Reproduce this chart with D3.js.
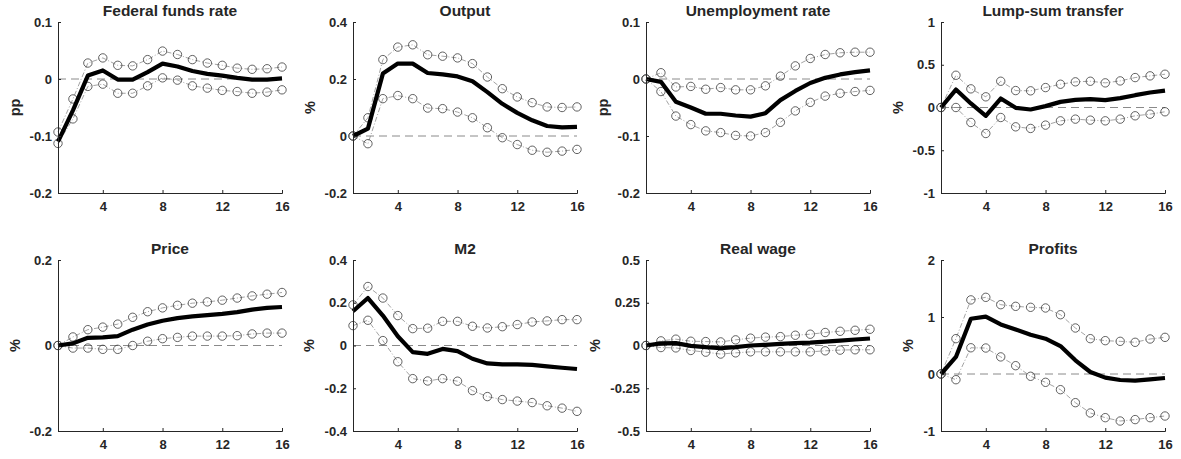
<!DOCTYPE html>
<html>
<head>
<meta charset="utf-8">
<script src="https://cdn.jsdelivr.net/npm/d3@7"></script>
<style>
  body { margin: 0; background: #fff; }
  text { font-family: "Liberation Sans", Arial, sans-serif; font-weight: bold; fill: #262626; }
</style>
</head>
<body>
<div id="chart"></div>
<script>
// horizons 1..16
var steps = d3.range(1, 17);

var titles = ["Federal funds rate", "Output", "Unemployment rate", "Lump-sum transfer",
              "Price", "M2", "Real wage", "Profits"];
var units = ["pp", "%", "pp", "%", "%", "%", "%", "%"];
var yTicks = [[-0.2, -0.1, 0, 0.1], [-0.2, 0, 0.2, 0.4], [-0.2, -0.1, 0, 0.1], [-1, -0.5, 0, 0.5, 1],
              [-0.2, 0, 0.2], [-0.4, -0.2, 0, 0.2, 0.4], [-0.5, -0.25, 0, 0.25, 0.5], [-1, 0, 1, 2]];

// median responses
var median = [
  [-0.11, -0.055, 0.006, 0.015, -0.001, -0.001, 0.012, 0.027, 0.022, 0.014, 0.009, 0.006, 0.002, -0.001, -0.001, 0.001],
  [0, 0.026, 0.219, 0.254, 0.254, 0.221, 0.216, 0.209, 0.192, 0.154, 0.113, 0.081, 0.055, 0.035, 0.03, 0.032],
  [0, -0.005, -0.04, -0.05, -0.061, -0.061, -0.064, -0.066, -0.06, -0.037, -0.021, -0.007, 0.002, 0.008, 0.012, 0.015],
  [0, 0.21, 0.047, -0.097, 0.105, -0.004, -0.023, 0.016, 0.066, 0.09, 0.097, 0.086, 0.109, 0.144, 0.175, 0.198],
  [0, 0.005, 0.018, 0.019, 0.022, 0.037, 0.049, 0.058, 0.064, 0.068, 0.071, 0.074, 0.078, 0.084, 0.088, 0.09],
  [0.16, 0.222, 0.14, 0.043, -0.031, -0.039, -0.016, -0.026, -0.062, -0.084, -0.088, -0.088, -0.091, -0.098, -0.104, -0.11],
  [0, 0.012, 0.014, -0.002, -0.01, -0.016, -0.01, 0, 0.004, 0.01, 0.014, 0.017, 0.023, 0.029, 0.035, 0.041],
  [0, 0.3, 0.97, 1.006, 0.87, 0.78, 0.69, 0.62, 0.49, 0.24, 0.035, -0.064, -0.105, -0.117, -0.094, -0.07]
];

// upper band
var upper = [
  [-0.093, -0.035, 0.028, 0.037, 0.024, 0.023, 0.034, 0.049, 0.043, 0.034, 0.028, 0.024, 0.019, 0.017, 0.018, 0.021],
  [0, 0.064, 0.268, 0.312, 0.32, 0.285, 0.28, 0.274, 0.254, 0.207, 0.166, 0.137, 0.117, 0.102, 0.1, 0.102],
  [0, 0.011, -0.014, -0.013, -0.018, -0.015, -0.019, -0.019, -0.012, 0.005, 0.023, 0.036, 0.043, 0.046, 0.047, 0.047],
  [0, 0.377, 0.218, 0.125, 0.307, 0.198, 0.195, 0.233, 0.272, 0.3, 0.307, 0.288, 0.311, 0.35, 0.37, 0.389],
  [0, 0.02, 0.037, 0.043, 0.05, 0.066, 0.079, 0.088, 0.094, 0.099, 0.102, 0.106, 0.111, 0.116, 0.12, 0.124],
  [0.19, 0.276, 0.222, 0.14, 0.079, 0.081, 0.113, 0.113, 0.09, 0.082, 0.088, 0.098, 0.11, 0.115, 0.121, 0.121],
  [0, 0.027, 0.037, 0.025, 0.023, 0.021, 0.033, 0.043, 0.049, 0.052, 0.06, 0.066, 0.076, 0.083, 0.089, 0.095],
  [0, 0.62, 1.3, 1.345, 1.216, 1.187, 1.17, 1.158, 1.04, 0.807, 0.62, 0.585, 0.573, 0.556, 0.614, 0.643]
];

// lower band
var lower = [
  [-0.113, -0.07, -0.013, -0.009, -0.025, -0.025, -0.012, 0.002, -0.002, -0.012, -0.016, -0.02, -0.022, -0.025, -0.023, -0.019],
  [0, -0.027, 0.131, 0.142, 0.131, 0.098, 0.096, 0.084, 0.064, 0.029, -0.006, -0.03, -0.05, -0.057, -0.053, -0.047],
  [0, -0.022, -0.065, -0.08, -0.091, -0.094, -0.099, -0.1, -0.094, -0.076, -0.056, -0.041, -0.03, -0.025, -0.022, -0.02],
  [0, 0, -0.175, -0.304, -0.117, -0.226, -0.245, -0.206, -0.156, -0.136, -0.148, -0.156, -0.136, -0.097, -0.078, -0.05],
  [0, -0.006, -0.006, -0.009, -0.009, 0, 0.01, 0.016, 0.019, 0.022, 0.022, 0.022, 0.023, 0.027, 0.029, 0.029],
  [0.093, 0.118, 0.023, -0.076, -0.155, -0.166, -0.155, -0.167, -0.211, -0.239, -0.253, -0.26, -0.267, -0.282, -0.293, -0.308],
  [0, -0.012, -0.014, -0.029, -0.039, -0.05, -0.043, -0.037, -0.037, -0.037, -0.037, -0.037, -0.031, -0.027, -0.025, -0.025],
  [0, -0.1, 0.46, 0.456, 0.3, 0.146, -0.04, -0.146, -0.275, -0.503, -0.684, -0.766, -0.825, -0.8, -0.766, -0.737]
];

var svgWidth = 1181, svgHeight = 459;
var lefts = [58, 353, 646, 941];
var tops = [22, 260];
var w = 224, h = 171;

var svg = d3.select("#chart")
.append("svg")
  .attr("width", svgWidth)
  .attr("height", svgHeight);

titles.forEach(function(title, k) {
  var row = Math.floor(k / 4), col = k % 4;
  var g = svg.append("g")
    .attr("transform", "translate(" + lefts[col] + "," + tops[row] + ")");

  var ext = d3.extent(yTicks[k]);
  var x = d3.scaleLinear().domain([1, 16]).range([0, w]);
  var y = d3.scaleLinear().domain(ext).range([h, 0]);

  // zero reference line
  g.append("line")
    .attr("x1", x(1)).attr("x2", x(16))
    .attr("y1", y(0)).attr("y2", y(0))
    .attr("stroke", "#8a8a8a").attr("stroke-width", 1)
    .attr("stroke-dasharray", "8,5");

  var line = d3.line()
    .x(function(d, i) { return x(steps[i]); })
    .y(function(d) { return y(d); });

  // bands: dash-dot with open circles
  [upper[k], lower[k]].forEach(function(band) {
    g.append("path")
      .datum(band)
      .attr("d", line)
      .attr("fill", "none")
      .attr("stroke", "#8c8c8c")
      .attr("stroke-width", 0.8)
      .attr("stroke-dasharray", "5,2,1,2");
    g.selectAll(null)
      .data(band)
      .enter().append("circle")
      .attr("cx", function(d, i) { return x(steps[i]); })
      .attr("cy", function(d) { return y(d); })
      .attr("r", 4.2)
      .attr("fill", "none")
      .attr("stroke", "#3a3a3a")
      .attr("stroke-width", 0.8);
  });

  // median
  g.append("path")
    .datum(median[k])
    .attr("d", line)
    .attr("fill", "none")
    .attr("stroke", "#000")
    .attr("stroke-width", 4.2)
    .attr("stroke-linejoin", "round");

  // axes
  var xAxis = g.append("g")
    .attr("transform", "translate(0," + h + ")")
    .call(d3.axisBottom(x).tickValues([4, 8, 12, 16]).tickSize(-3).tickPadding(9).tickFormat(d3.format("d")));
  var yAxis = g.append("g")
    .call(d3.axisLeft(y).tickValues(yTicks[k]).tickSize(-3).tickPadding(6).tickFormat(function(d) { return String(d); }));

  [xAxis, yAxis].forEach(function(a) {
    a.select(".domain").attr("stroke", "#262626").attr("stroke-width", 1);
    a.selectAll(".tick line").attr("stroke", "#262626");
    a.selectAll(".tick text")
      .style("font-size", "13px")
      .style("font-weight", "bold")
      .attr("fill", "#262626");
  });

  var maxW = 0;
  yAxis.selectAll(".tick text").each(function() {
    maxW = Math.max(maxW, this.getBBox().width);
  });

  g.append("text")
    .attr("transform", "translate(" + (-maxW - 16) + "," + (h / 2) + ") rotate(-90)")
    .attr("text-anchor", "middle")
    .style("font-size", "14.5px")
    .text(units[k]);

  g.append("text")
    .attr("x", w / 2)
    .attr("y", -6)
    .attr("text-anchor", "middle")
    .style("font-size", "15.5px")
    .text(title);
});
</script>
</body>
</html>
